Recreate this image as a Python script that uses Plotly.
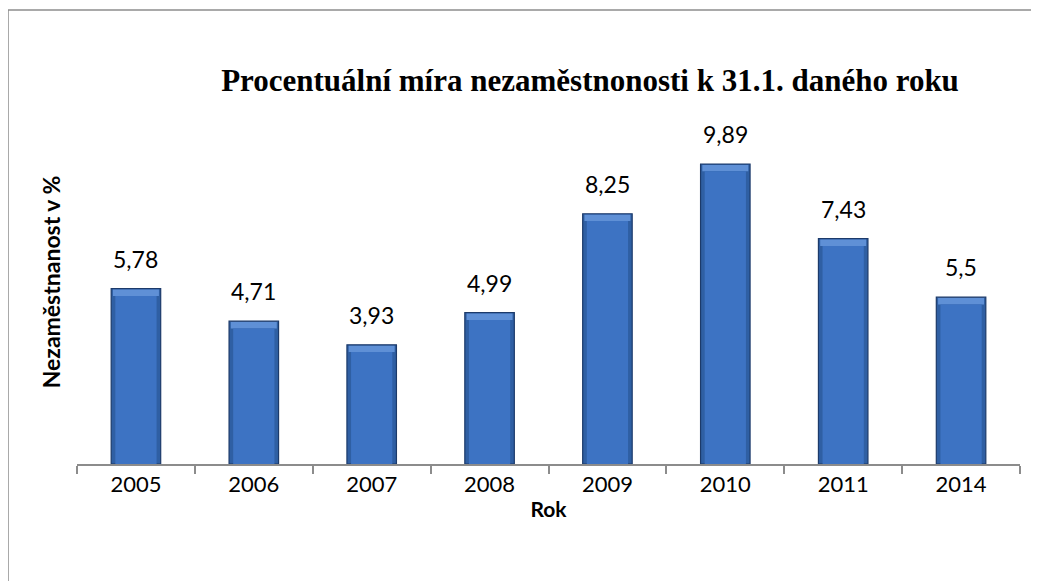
import plotly.graph_objects as go

years = ["2005", "2006", "2007", "2008", "2009", "2010", "2011", "2014"]
values = [5.78, 4.71, 3.93, 4.99, 8.25, 9.89, 7.43, 5.5]
labels = ["5,78", "4,71", "3,93", "4,99", "8,25", "9,89", "7,43", "5,5"]

W, H = 1039, 581
L, R, T, B = 69, 27, 92, 125
PW, PH = W - L - R, H - T - B
SANS = "Lato, Open Sans, sans-serif"
BEV = 0.24  # bevel depth in data units (style only)

fig = go.Figure()
# outer (darker edge) bar
fig.add_trace(go.Bar(
    x=years, y=values, width=0.42,
    marker=dict(color="#2F5FA3", line=dict(color="#1C3A6A", width=1.2)),
    hoverinfo="skip",
))
# lighter top bevel
fig.add_trace(go.Bar(
    x=years, y=[BEV - 0.03] * len(values), base=[v - BEV for v in values], width=0.39,
    marker=dict(color="#5F90D6", line=dict(width=0)),
    hoverinfo="skip",
))
# main face
fig.add_trace(go.Bar(
    x=years, y=[v - BEV for v in values], width=0.35,
    marker=dict(color="#3D73C3", line=dict(width=0)),
    hoverinfo="skip",
))

# value labels above bars (x given as category index)
annotations = [
    dict(x=i, y=v, xref="x", yref="y", text=lb, showarrow=False,
         yanchor="bottom", yshift=14,
         font=dict(family=SANS, size=23, color="#000"))
    for i, (v, lb) in enumerate(zip(values, labels))
]

fig.update_layout(
    width=W, height=H,
    margin=dict(l=L, r=R, t=T, b=B),
    paper_bgcolor="white", plot_bgcolor="white",
    barmode="overlay", showlegend=False,
    title=dict(text="<b>Procentuální míra nezaměstnonosti k 31.1. daného roku</b>",
               font=dict(family="Liberation Serif, Times New Roman, serif", size=31, color="#000"),
               x=582 / W, xanchor="center", y=1 - 72 / H, yanchor="middle"),
    xaxis=dict(
        type="category", categoryorder="array", categoryarray=years,
        range=[-0.5, len(years) - 0.5],
        title=dict(text="<b>Rok</b>", font=dict(family=SANS, size=21, color="#000"), standoff=6),
        showline=True, linecolor="#8C8C8C", linewidth=1.5,
        ticks="outside", ticklen=8, tickcolor="#8C8C8C", tickwidth=1.5,
        tickson="boundaries", tickangle=0,
        tickfont=dict(family=SANS, size=22, color="#000"),
        showgrid=False, zeroline=False,
    ),
    yaxis=dict(
        title=dict(text="<b>Nezaměstnanost v %</b>", font=dict(family=SANS, size=23, color="#000"), standoff=8),
        range=[0, 12], showticklabels=False, showgrid=False, zeroline=False, showline=False, ticks="",
    ),
    annotations=annotations,
    shapes=[
        dict(type="line", xref="paper", yref="paper", x0=-L / PW, x1=1.2,
             y0=1 + (T - 2) / PH, y1=1 + (T - 2) / PH,
             line=dict(color="#8C8C8C", width=1.5)),
        dict(type="line", xref="paper", yref="paper", x0=-L / PW, x1=-L / PW,
             y0=1 + (T - 2) / PH, y1=-0.5,
             line=dict(color="#8C8C8C", width=1.5)),
    ],
)

fig.write_html("out.html")
